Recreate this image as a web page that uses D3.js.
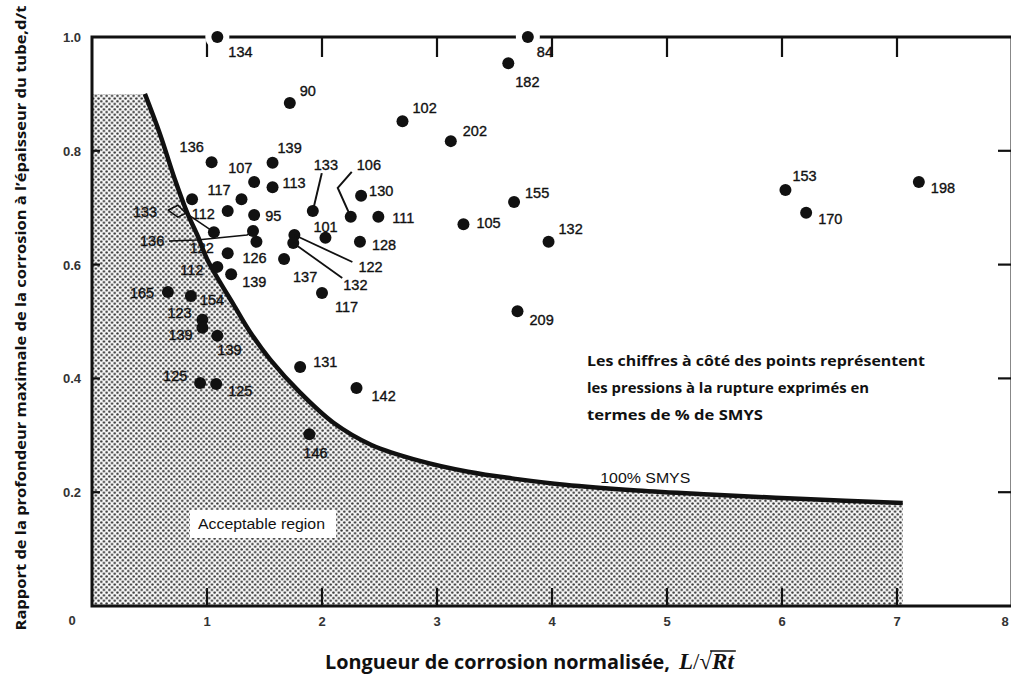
<!DOCTYPE html>
<html>
<head>
<meta charset="utf-8">
<script src="https://cdn.jsdelivr.net/npm/d3@7/dist/d3.min.js"></script>
<style>
  html, body { margin: 0; padding: 0; background: #fff; }
  svg { display: block; }
</style>
</head>
<body>
<svg id="chart" width="1011" height="674"></svg>
<script>
// Burst-test results: normalized corrosion length vs. relative defect depth
const pointX = [1.09, 3.79, 3.62, 1.72, 2.70, 3.12, 1.04, 1.57, 1.41, 1.57, 1.30, 0.87, 1.18, 1.41, 1.92, 2.25, 2.34, 2.49,
                1.06, 1.40, 1.43, 1.18, 1.09, 1.21, 1.67, 1.76, 1.75, 2.03, 2.33, 2.00, 0.66, 0.86, 0.96, 0.96, 1.09,
                0.94, 1.08, 1.81, 2.30, 1.89, 3.67, 3.23, 3.97, 3.70, 6.03, 6.21, 7.19];
const pointY = [1.00, 1.00, 0.954, 0.884, 0.852, 0.817, 0.780, 0.779, 0.745, 0.736, 0.715, 0.715, 0.694, 0.687, 0.694, 0.684, 0.721, 0.684,
                0.657, 0.659, 0.640, 0.620, 0.596, 0.583, 0.610, 0.652, 0.638, 0.647, 0.640, 0.550, 0.552, 0.545, 0.503, 0.489, 0.475,
                0.392, 0.390, 0.420, 0.383, 0.302, 0.710, 0.671, 0.640, 0.518, 0.731, 0.691, 0.745];
// failure pressure, % of SMYS
const pointLabel = ["134", "84", "182", "90", "102", "202", "136", "139", "107", "113", "117", "", "112", "95", "133", "106", "130", "111",
                    "133", "136", "126", "122", "112", "139", "137", "122", "132", "101", "128", "117", "165", "154", "123", "139", "139",
                    "125", "125", "131", "142", "146", "155", "105", "132", "209", "153", "170", "198"];

// 100% SMYS limit curve
const curveX = [0.46, 0.59, 0.72, 0.83, 0.92, 1.00, 1.11, 1.23, 1.37, 1.55, 1.81, 2.10, 2.43, 2.85, 3.27, 3.70, 4.11, 4.74, 5.37, 6.20, 7.05];
const curveY = [0.90, 0.83, 0.75, 0.69, 0.65, 0.61, 0.57, 0.53, 0.483, 0.433, 0.375, 0.322, 0.283, 0.255, 0.236, 0.223, 0.213, 0.203, 0.196, 0.188, 0.181];
const regionTop = 0.90;

const xTicks = [1, 2, 3, 4, 5, 6, 7, 8];
const xTickLabels = ["1", "2", "3", "4", "5", "6", "7", "8"];
const yTicks = [0.2, 0.4, 0.6, 0.8, 1.0];
const yTickLabels = ["0.2", "0.4", "0.6", "0.8", "1.0"];

// label placement (pixel offsets from each point)
const labelDx = [11, 9, 7, 10, 10, 12, -32, 5, -26, 10, -34, 0, -36, 11, 1, 6, 8, 14,
                 -81, -113, -14, -38, -37, 11, 9, 64, 50, -12, 12, 13, -38, 9, -35, -34, 0,
                 -37, 12, 13, 15, -6, 11, 13, 10, 12, 7, 12, 12];
const labelDy = [15, 15, 19, -12, -13, -10, -15, -15, -14, -4, -9, 0, 3, 1, -46, -52, -5, 1,
                 -20, 10, 16, -5, 3, 8, 18, 32, 42, -11, 3, 14, 1, 4, -7, 7, 14,
                 -7, 7, -5, 8, 19, -9, -1, -13, 9, -14, 6, 6];
// leader lines, pixel offsets from the point they point to
const leaders = [
  { i: 14, w: 2, lines: [[[9, -38], [0, 0]]] },
  { i: 15, w: 2, lines: [[[1, -45], [-13, -29], [0, 0]]] },
  { i: 18, w: 1.6, lines: [[[-46, -22], [-36, -27], [-28, -19], [-36, -15], [-46, -22]], [[-28, -19], [0, 0]]] },
  { i: 19, w: 1.6, lines: [[[-84, 10], [-56, 9], [-6, 4], [0, 0]]] },
  { i: 25, w: 1.8, lines: [[[58, 27], [0, 0]]] },
  { i: 26, w: 1.8, lines: [[[49, 35], [0, 0]]] }
];

const svg = d3.select("#chart");
const x = d3.scaleLinear().domain([0, 8]).range([92, 1012]);
const y = d3.scaleLinear().domain([0, 1]).range([606, 37]);
const ink = "#111";

// stipple fill for the acceptable region
const defs = svg.append("defs");
const pat = defs.append("pattern").attr("id", "stipple")
  .attr("patternUnits", "userSpaceOnUse").attr("width", 5.4).attr("height", 5.4);
pat.append("rect").attr("width", 5.4).attr("height", 5.4).attr("fill", "#f7f7f7");
pat.append("circle").attr("cx", 1.35).attr("cy", 1.35).attr("r", 1.2).attr("fill", "#333");
pat.append("circle").attr("cx", 4.05).attr("cy", 4.05).attr("r", 1.2).attr("fill", "#333");

const curve = curveX.map((v, i) => [v, curveY[i]]);
const curveGen = d3.line().curve(d3.curveCatmullRom.alpha(0.5)).x(d => x(d[0])).y(d => y(d[1]));
const curvePath = curveGen(curve);
// region: left frame up to the flat top, along the curve, then straight down at its end
const x0 = x(0), yb = y(0), yt = y(regionTop);
const xe = x(curveX[curveX.length - 1]);
svg.append("path")
  .attr("d", `M${x0},${yb}L${x0},${yt}L${x(curveX[0])},${yt}` + curvePath.replace(/^M/, "L") + `L${xe},${yb}Z`)
  .attr("fill", "url(#stipple)");

svg.append("path")
  .attr("d", curvePath)
  .attr("fill", "none").attr("stroke", ink).attr("stroke-width", 4.5);

// frame
svg.append("rect")
  .attr("x", x(0)).attr("y", y(1)).attr("width", x(8) - x(0)).attr("height", y(0) - y(1))
  .attr("fill", "none").attr("stroke", ink).attr("stroke-width", 3);

// inward ticks on all four sides
const tickG = svg.append("g").attr("stroke", ink).attr("stroke-width", 2.2);
xTicks.filter(v => v < 8).forEach(v => {
  tickG.append("line").attr("x1", x(v)).attr("x2", x(v)).attr("y1", y(1)).attr("y2", y(1) + 20);
  tickG.append("line").attr("x1", x(v)).attr("x2", x(v)).attr("y1", y(0)).attr("y2", y(0) - 18);
});
yTicks.filter(v => v < 1).forEach(v => {
  tickG.append("line").attr("x1", x(0)).attr("x2", x(0) + 8).attr("y1", y(v)).attr("y2", y(v));
  tickG.append("line").attr("x1", x(8)).attr("x2", x(8) - 14).attr("y1", y(v)).attr("y2", y(v));
});

// tick labels
const tickFont = "'Liberation Sans', Arial, sans-serif";
svg.append("g").selectAll("text").data(xTicks).join("text")
  .attr("x", d => Math.min(x(d), 1005)).attr("y", 626)
  .attr("text-anchor", "middle").attr("font-family", tickFont).attr("font-weight", "bold")
  .attr("font-size", 13).attr("fill", "#333")
  .text((d, i) => xTickLabels[i]);
svg.append("g").selectAll("text").data(yTicks).join("text")
  .attr("x", 81).attr("y", d => y(d) + 5)
  .attr("text-anchor", "end").attr("font-family", tickFont).attr("font-weight", "bold")
  .attr("font-size", 13).attr("fill", "#333")
  .text((d, i) => yTickLabels[i]);
svg.append("text").attr("x", 72).attr("y", 625).attr("text-anchor", "middle")
  .attr("font-family", tickFont).attr("font-weight", "bold").attr("font-size", 13).attr("fill", "#333")
  .text("0");

// data points
const pts = pointX.map((v, i) => ({ x: v, y: pointY[i], label: pointLabel[i], dx: labelDx[i], dy: labelDy[i] }));
svg.append("g").selectAll("circle").data(pts.filter(p => p.y >= 1)).join("circle")
  .attr("cx", d => x(d.x)).attr("cy", d => y(d.y)).attr("r", 12).attr("fill", "#fff");
svg.append("g").selectAll("circle").data(pts).join("circle")
  .attr("cx", d => x(d.x)).attr("cy", d => y(d.y)).attr("r", 6).attr("fill", ink);

// leaders
const lg = svg.append("g").attr("fill", "none").attr("stroke", ink);
leaders.forEach(l => {
  const p = pts[l.i];
  l.lines.forEach(seg => {
    lg.append("path")
      .attr("d", d3.line()(seg.map(o => [x(p.x) + o[0], y(p.y) + o[1]])))
      .attr("stroke-width", l.w);
  });
});

// point labels
svg.append("g").selectAll("text").data(pts.filter(p => p.label)).join("text")
  .attr("x", d => x(d.x) + d.dx).attr("y", d => y(d.y) + d.dy)
  .attr("dy", "0.36em")
  .attr("font-family", tickFont).attr("font-size", 14.5).attr("fill", ink)
  .attr("stroke", ink).attr("stroke-width", 0.35)
  .text(d => d.label);

// region annotations
svg.append("rect").attr("x", 190).attr("y", 510).attr("width", 146).attr("height", 28).attr("fill", "#fff");
svg.append("text").attr("x", 198).attr("y", 529)
  .attr("font-family", tickFont).attr("font-size", 14).attr("fill", ink)
  .attr("textLength", 127).attr("lengthAdjust", "spacingAndGlyphs")
  .text("Acceptable region");
svg.append("text").attr("x", x(4.42)).attr("y", 483)
  .attr("font-family", tickFont).attr("font-size", 14).attr("fill", ink)
  .attr("textLength", 90).attr("lengthAdjust", "spacingAndGlyphs")
  .text("100% SMYS");

// note
const note = ["Les chiffres à côté des points représentent", "les pressions à la rupture exprimés en", "termes de % de SMYS"];
const noteLen = [338, 282, 176];
svg.append("g").selectAll("text").data(note).join("text")
  .attr("x", 587).attr("y", (d, i) => 366 + i * 27)
  .attr("font-family", "'Open Sans', sans-serif").attr("font-weight", "bold").attr("font-size", 15)
  .attr("fill", "#111")
  .attr("textLength", (d, i) => noteLen[i]).attr("lengthAdjust", "spacingAndGlyphs")
  .text(d => d);

// axis titles
svg.append("text")
  .attr("transform", "translate(26,318) rotate(-90)")
  .attr("text-anchor", "middle")
  .attr("font-family", "'Open Sans', sans-serif").attr("font-weight", "bold").attr("font-size", 14)
  .attr("fill", "#111")
  .attr("textLength", 625).attr("lengthAdjust", "spacingAndGlyphs")
  .text("Rapport de la profondeur maximale de la corrosion à l’épaisseur du tube,d/t");

svg.append("text").attr("x", 325).attr("y", 669).attr("fill", "#111")
  .attr("font-family", "'Open Sans', sans-serif").attr("font-weight", "bold").attr("font-size", 19)
  .attr("textLength", 345).attr("lengthAdjust", "spacingAndGlyphs")
  .text("Longueur de corrosion normalisée,");
const xt = svg.append("text").attr("x", 679).attr("y", 669).attr("fill", "#111")
  .attr("font-family", "'Liberation Serif', 'DejaVu Serif', serif").attr("font-size", 23);
xt.append("tspan").attr("font-style", "italic").attr("font-weight", "bold").text("L");
xt.append("tspan").text("/√");
xt.append("tspan").attr("font-style", "italic").attr("font-weight", "bold").text("Rt");
const xtNode = xt.node();
const n = xtNode.getNumberOfChars();
const rStart = xtNode.getStartPositionOfChar(n - 2).x;
const tEnd = xtNode.getEndPositionOfChar(n - 1).x;
svg.append("line").attr("x1", rStart - 2).attr("x2", tEnd + 2).attr("y1", 651).attr("y2", 651)
  .attr("stroke", "#111").attr("stroke-width", 1.5);
</script>
</body>
</html>
